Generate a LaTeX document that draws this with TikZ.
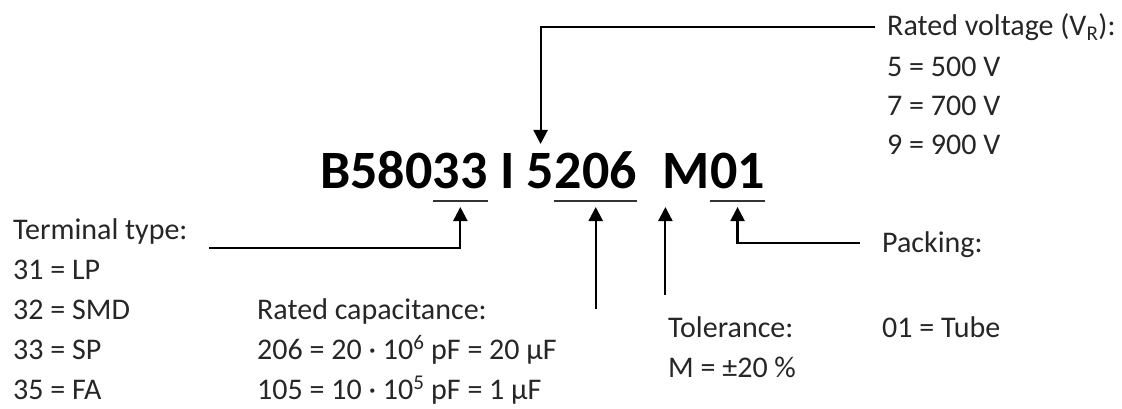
\documentclass[tikz,border=0pt]{standalone}
\usepackage{fontspec}
\setmainfont{Carlito}
\usetikzlibrary{arrows.meta}
\tikzset{
  ttl/.style={font=\fontsize{54}{60}\selectfont\bfseries, inner sep=0pt, anchor=base west},
  lbl/.style={font=\fontsize{30}{35}\selectfont, inner sep=0pt, anchor=base west, text=black!85},
  uline/.style={line width=1.8pt, black!80},
  arr/.style={line width=2.2pt, -{Triangle[length=14pt,width=14pt]}},
}
\begin{document}
\begin{tikzpicture}[x=1pt,y=-1pt]
\useasboundingbox (0,0) rectangle (1122,409);
% title
\node[ttl] (tA) at (320,189) {B580};
\node[ttl] (t33) at (tA.base east) {33};
\node[ttl] (tB) at (t33.base east) {\kern12pt I\kern12pt};
\node[ttl] (t5) at (tB.base east) {5};
\node[ttl] (t206) at (t5.base east) {206};
\node[ttl] (tC) at (t206.base east) {\kern25pt};
\node[ttl] (tM) at (tC.base east) {M};
\node[ttl] (t01) at (tM.base east) {01};
% underlines
\draw[uline] ([yshift=-12pt]t33.base west) -- ([yshift=-12pt]t33.base east);
\draw[uline] ([yshift=-12pt]t206.base west) -- ([yshift=-12pt]t206.base east);
\draw[uline] ([yshift=-12pt]t01.base west) -- ([yshift=-12pt]t01.base east);
% voltage
\node[lbl] (rv0) at (887,36) {Rated voltage (V\textsubscript{R}):};
\node[lbl] (rv1) at (887,77) {5 = 500 V};
\node[lbl] (rv2) at (887,116) {7 = 700 V};
\node[lbl] (rv3) at (887,155) {9 = 900 V};
% terminal
\node[lbl] (tt0) at (13,239) {Terminal type:};
\node[lbl] (tt1) at (13,279) {31 = LP};
\node[lbl] (tt2) at (13,319) {32 = SMD};
\node[lbl] (tt3) at (13,359) {33 = SP};
\node[lbl] (tt4) at (13,399) {35 = FA};
% capacitance
\node[lbl] (rc0) at (257,319) {Rated capacitance:};
\node[lbl] (rc1) at (257,359) {206 = 20 · 10\textsuperscript{6} pF = 20 µF};
\node[lbl] (rc2) at (257,399) {105 = 10 · 10\textsuperscript{5} pF = 1 µF};
% tolerance
\node[lbl] (to0) at (668,337) {Tolerance:};
\node[lbl] (to1) at (668,377) {M = ±20 \%};
% packing
\node[lbl] (pk0) at (882,252) {Packing:};
\node[lbl] (pk1) at (882,337) {01 = Tube};
% connectors
\coordinate (voltStart) at (875,27);
\draw[arr] (voltStart) -| ([yshift=45pt]t5.base);
\coordinate (termStart) at (209,248);
\draw[arr] (termStart) -| ([yshift=-18pt]t33.base);
\coordinate (capStart) at ([yshift=-120pt]t206.base);
\draw[arr] (capStart) -- ([yshift=-18pt]t206.base);
\coordinate (tolStart) at ([xshift=3pt,yshift=-106pt]tM.base west);
\draw[arr] (tolStart) -- ([xshift=3pt,yshift=-18pt]tM.base west);
\coordinate (packStart) at (860,243);
\draw[arr] (packStart) -| ([yshift=-18pt]t01.base);
\end{tikzpicture}
\end{document}
